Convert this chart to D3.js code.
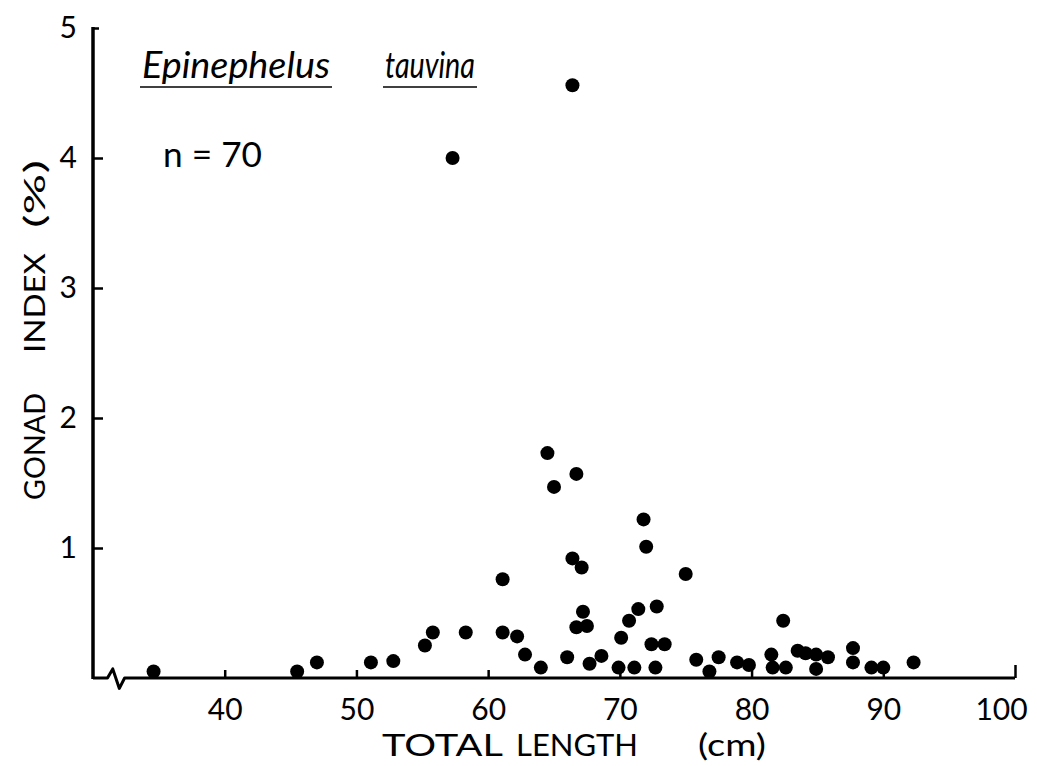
<!DOCTYPE html>
<meta charset="UTF-8">
<script src="https://cdnjs.cloudflare.com/ajax/libs/d3/7.8.5/d3.min.js"></script>
<style>
    body { margin: 0; background: #fff; }
    text { font-family: Lato, "DejaVu Sans", sans-serif; font-weight: 400; fill: #000; }
</style>
<svg id="chart" width="1037" height="766"></svg>
<script>
    // total length (cm) and gonad index (%)
    const lengths = [34.6, 45.5, 47.0, 51.1, 52.8, 55.2, 55.8, 57.3, 58.3, 61.1,
        61.1, 62.2, 62.8, 64.0, 64.5, 65.0, 66.0, 66.4, 66.4, 66.7,
        66.7, 67.1, 67.2, 67.5, 67.7, 68.6, 69.9, 70.1, 70.7, 71.1,
        71.4, 71.8, 72.0, 72.4, 72.7, 72.8, 73.4, 75.0, 75.8, 76.8,
        77.5, 78.9, 79.8, 81.5, 81.6, 82.4, 82.6, 83.5, 84.1, 84.9,
        84.9, 85.8, 87.7, 87.7, 89.1, 90.0, 92.3];
    const gonadIndex = [0.05, 0.05, 0.12, 0.12, 0.13, 0.25, 0.35, 4.0, 0.35, 0.35,
        0.76, 0.32, 0.18, 0.08, 1.73, 1.47, 0.16, 0.92, 4.56, 1.57,
        0.39, 0.85, 0.51, 0.40, 0.11, 0.17, 0.08, 0.31, 0.44, 0.08,
        0.53, 1.22, 1.01, 0.26, 0.08, 0.55, 0.26, 0.80, 0.14, 0.05,
        0.16, 0.12, 0.10, 0.18, 0.08, 0.44, 0.08, 0.21, 0.19, 0.18,
        0.07, 0.16, 0.23, 0.12, 0.08, 0.08, 0.12];
    const xTicks = [40, 50, 60, 70, 80, 90, 100];
    const yTicks = [1, 2, 3, 4, 5];

    let svg = d3.select("svg");
    let x = d3.scaleLinear().domain([30, 100]).range([93, 1015]);
    let y = d3.scaleLinear().domain([0, 5]).range([678, 28]);

    // x axis: ticks and labels from d3, baseline drawn by hand with the break
    let xAxis = svg.append("g")
        .attr("transform", "translate(0," + y(0) + ")")
        .call(d3.axisBottom(x).tickValues(xTicks).tickFormat(d3.format("d"))
            .tickSizeInner(-8).tickSizeOuter(0).tickPadding(21));
    xAxis.select(".domain").remove();
    xAxis.selectAll("line").attr("stroke", "#000").attr("stroke-width", 2.5);
    xAxis.select(".tick:last-of-type line").attr("y2", -13);
    xAxis.select(".tick:last-of-type text").attr("dx", -14);
    xAxis.selectAll("text").attr("fill", "#000").style("font-size", "30px").style("font-family", "Lato, sans-serif");

    let base = [[x(30), y(0)], [x(31.1), y(0)], [x(31.5), y(0.07)], [x(32.0), y(-0.08)], [x(32.4), y(0)], [x(100), y(0)]];
    svg.append("path")
        .attr("d", d3.line()(base))
        .attr("fill", "none")
        .attr("stroke", "#000")
        .attr("stroke-width", 3)
        .attr("stroke-linejoin", "round");

    // y axis
    let yAxis = svg.append("g")
        .attr("transform", "translate(" + x(30) + ",0)")
        .call(d3.axisLeft(y).tickValues(yTicks).tickFormat(d3.format("d"))
            .tickSizeInner(-10).tickSizeOuter(0).tickPadding(16));
    yAxis.select(".domain").remove();
    yAxis.selectAll("line").attr("stroke", "#000").attr("stroke-width", 2.5);
    yAxis.select(".tick:last-of-type line").attr("x2", 6);
    yAxis.selectAll("text").attr("fill", "#000").style("font-size", "30px").style("font-family", "Lato, sans-serif");
    svg.append("line")
        .attr("x1", x(30)).attr("x2", x(30))
        .attr("y1", y(5) - 1).attr("y2", y(0) + 1)
        .attr("stroke", "#000").attr("stroke-width", 3.5);

    // points
    svg.append("g")
        .selectAll("circle")
        .data(lengths)
        .enter()
        .append("circle")
        .attr("cx", function (d) { return x(d); })
        .attr("cy", function (d, i) { return y(gonadIndex[i]); })
        .attr("r", 7)
        .attr("fill", "#000");

    // axis titles
    svg.append("text")
        .attr("x", 382).attr("y", 756)
        .attr("textLength", 121).attr("lengthAdjust", "spacingAndGlyphs")
        .style("font-size", "30px")
        .text("TOTAL");
    svg.append("text")
        .attr("x", 516).attr("y", 756)
        .attr("textLength", 122).attr("lengthAdjust", "spacingAndGlyphs")
        .style("font-size", "30px")
        .text("LENGTH");
    svg.append("text")
        .attr("x", 698).attr("y", 756)
        .attr("textLength", 68).attr("lengthAdjust", "spacingAndGlyphs")
        .style("font-size", "30px")
        .text("(cm)");

    let yTitle = [["GONAD", 500, 107], ["INDEX", 353, 100], ["(%)", 228, 68]];
    yTitle.forEach(function (t) {
        svg.append("text")
            .attr("transform", "translate(45," + t[1] + ") rotate(-90)")
            .attr("textLength", t[2]).attr("lengthAdjust", "spacingAndGlyphs")
            .style("font-size", "28px")
            .text(t[0]);
    });

    // species and sample size
    let species = [["Epinephelus", 142, 188], ["tauvina", 385, 90]];
    species.forEach(function (s) {
        svg.append("text")
            .attr("x", s[1]).attr("y", 78)
            .attr("textLength", s[2]).attr("lengthAdjust", "spacingAndGlyphs")
            .style("font-size", "36px")
            .style("font-style", "italic")
            .text(s[0]);
        svg.append("line")
            .attr("x1", s[1] - 2).attr("x2", s[1] + s[2] + 2)
            .attr("y1", 87).attr("y2", 87)
            .attr("stroke", "#000").attr("stroke-width", 1.5);
    });
    svg.append("text")
        .attr("x", 163).attr("y", 167)
        .attr("textLength", 99).attr("lengthAdjust", "spacingAndGlyphs")
        .style("font-size", "34px")
        .text("n = 70");
</script>
